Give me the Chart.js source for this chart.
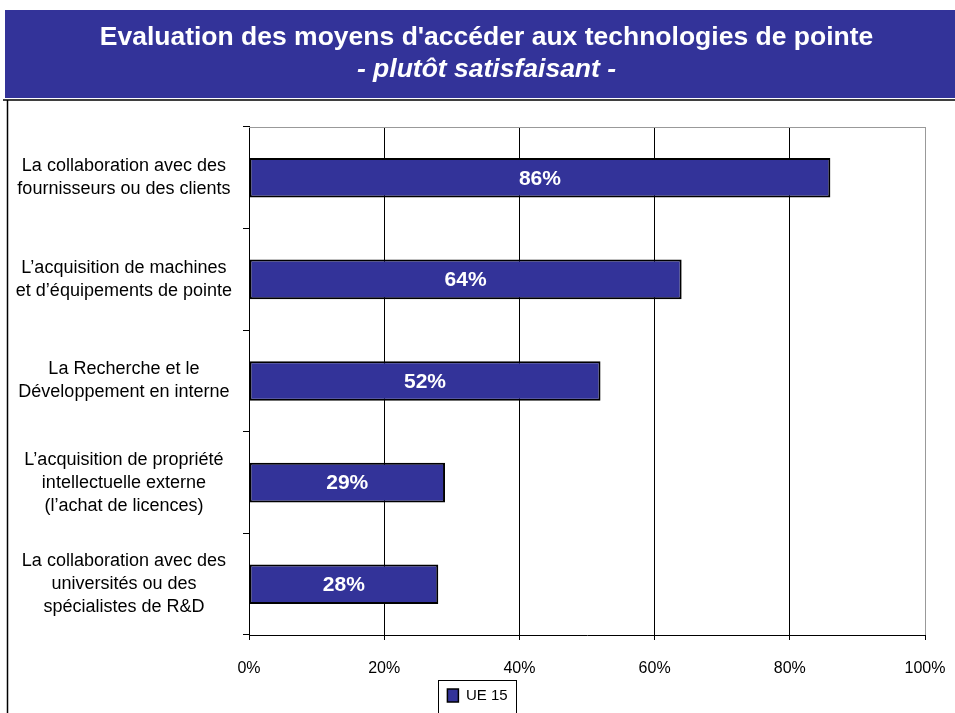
<!DOCTYPE html>
<html>
<head>
<meta charset="utf-8">
<script src="https://cdn.jsdelivr.net/npm/chart.js@4"></script>
<style>
  body { margin: 0; background: #fff; }
  canvas { display: block; }
</style>
</head>
<body>
<canvas id="chartvas" width="955" height="713"></canvas>
<script>
'use strict';

// data
const categories = [
    ['La collaboration avec des', 'fournisseurs ou des clients'],
    ['L\u2019acquisition de machines', 'et d\u2019\u00e9quipements de pointe'],
    ['La Recherche et le', 'D\u00e9veloppement en interne'],
    ['L\u2019acquisition de propri\u00e9t\u00e9', 'intellectuelle externe', '(l\u2019achat de licences)'],
    ['La collaboration avec des', 'universit\u00e9s ou des', 'sp\u00e9cialistes de R&D']
];
const ue15 = [86, 64, 52, 29, 28];
const xTicks = [0, 20, 40, 60, 80, 100];

const blue = '#333399';
const font = 'Liberation Sans, Arial, sans-serif';

// ---- banner, frame, top border of the plot, legend box ----
const framePlugin = {
    id: 'frame',
    afterLayout(chart) {
        // the title sits a little right of centre in the original
        chart.boxes.forEach(b => {
            if (b.position === 'top') {
                b.left += 9;
                b.right += 9;
            }
        });
    },
    beforeDraw(chart) {
        const ctx = chart.ctx;
        ctx.save();
        ctx.fillStyle = '#fff';
        ctx.fillRect(0, 0, chart.width, chart.height);
        ctx.fillStyle = blue;
        ctx.fillRect(5, 10, chart.width - 5, 88);
        ctx.strokeStyle = '#000';
        ctx.lineWidth = 1.5;
        ctx.beginPath();
        ctx.moveTo(3, 100);
        ctx.lineTo(chart.width, 100);
        ctx.moveTo(7.5, 100);
        ctx.lineTo(7.5, chart.height);
        ctx.stroke();
        ctx.restore();
    },
    afterDraw(chart) {
        const ctx = chart.ctx;
        const area = chart.chartArea;
        ctx.save();
        ctx.strokeStyle = '#999';
        ctx.lineWidth = 1;
        ctx.beginPath();
        ctx.moveTo(area.left, Math.round(area.top) + 0.5);
        ctx.lineTo(area.right, Math.round(area.top) + 0.5);
        ctx.stroke();
        const box = chart.legend.legendHitBoxes[0];
        if (box) {
            ctx.strokeStyle = '#000';
            ctx.strokeRect(Math.round(box.left - 9) + 0.5, Math.round(box.top - 8) + 0.5, Math.round(box.width + 18), 40);
        }
        ctx.restore();
    }
};

// ---- white percentage in each bar ----
const barLabels = {
    id: 'barLabels',
    afterDatasetsDraw(chart) {
        const ctx = chart.ctx;
        const meta = chart.getDatasetMeta(0);
        ctx.save();
        ctx.fillStyle = '#fff';
        ctx.font = 'bold 21px ' + font;
        ctx.textAlign = 'center';
        ctx.textBaseline = 'middle';
        meta.data.forEach((bar, i) => {
            const x = (bar.x + bar.base) / 2;
            ctx.fillText(ue15[i] + '%', x, bar.y + 1);
        });
        ctx.restore();
    }
};

const data = {
    labels: categories,
    datasets: [{
        label: 'UE 15',
        data: ue15,
        backgroundColor: blue,
        borderColor: '#000',
        borderWidth: 2,
        borderSkipped: false,
        categoryPercentage: 0.39,
        barPercentage: 1
    }]
};

const config = {
    type: 'bar',
    data: data,
    options: {
        indexAxis: 'y',
        responsive: false,
        animation: false,
        layout: { padding: 0 },
        plugins: {
            title: {
                display: true,
                text: 'Evaluation des moyens d\'acc\u00e9der aux technologies de pointe',
                color: '#fff',
                font: { family: font, size: 26.5, weight: 'bold' },
                padding: { top: 22, bottom: 0 }
            },
            subtitle: {
                display: true,
                text: '- plut\u00f4t satisfaisant -',
                color: '#fff',
                font: { family: font, size: 26.5, weight: 'bold', style: 'italic' },
                padding: { top: 0, bottom: 41.4 }
            },
            legend: {
                position: 'bottom',
                labels: {
                    color: '#000',
                    font: { family: font, size: 15 },
                    boxWidth: 11,
                    boxHeight: 13,
                    padding: 8,
                    generateLabels(chart) {
                        return [{
                            text: 'UE 15',
                            fillStyle: blue,
                            strokeStyle: '#000',
                            lineWidth: 1.5,
                            datasetIndex: 0
                        }];
                    }
                }
            },
            tooltip: { enabled: false }
        },
        scales: {
            x: {
                min: 0,
                max: 100,
                afterBuildTicks(scale) {
                    scale.ticks = xTicks.map(v => ({ value: v }));
                },
                afterFit(scale) {
                    scale.height = 45;
                    scale.paddingRight = 30;
                },
                ticks: {
                    color: '#000',
                    font: { family: font, size: 16 },
                    padding: 19,
                    maxRotation: 0,
                    callback: v => v + '%'
                },
                grid: {
                    color: c => (c.tick && c.tick.value === 100 ? '#999' : '#000'),
                    tickColor: '#000',
                    tickLength: 5,
                    lineWidth: 1
                },
                border: { color: '#000', width: 1 }
            },
            y: {
                afterFit(scale) { scale.width = 249; },
                ticks: {
                    color: '#000',
                    font: { family: font, size: 18, lineHeight: 1.28 },
                    crossAlign: 'center',
                    padding: 11
                },
                grid: {
                    offset: true,
                    drawOnChartArea: false,
                    tickColor: '#000',
                    tickLength: 6
                },
                border: { color: '#000', width: 1 }
            }
        }
    },
    plugins: [framePlugin, barLabels]
};

const myBarChart = new Chart(document.getElementById('chartvas'), config);
</script>
</body>
</html>
